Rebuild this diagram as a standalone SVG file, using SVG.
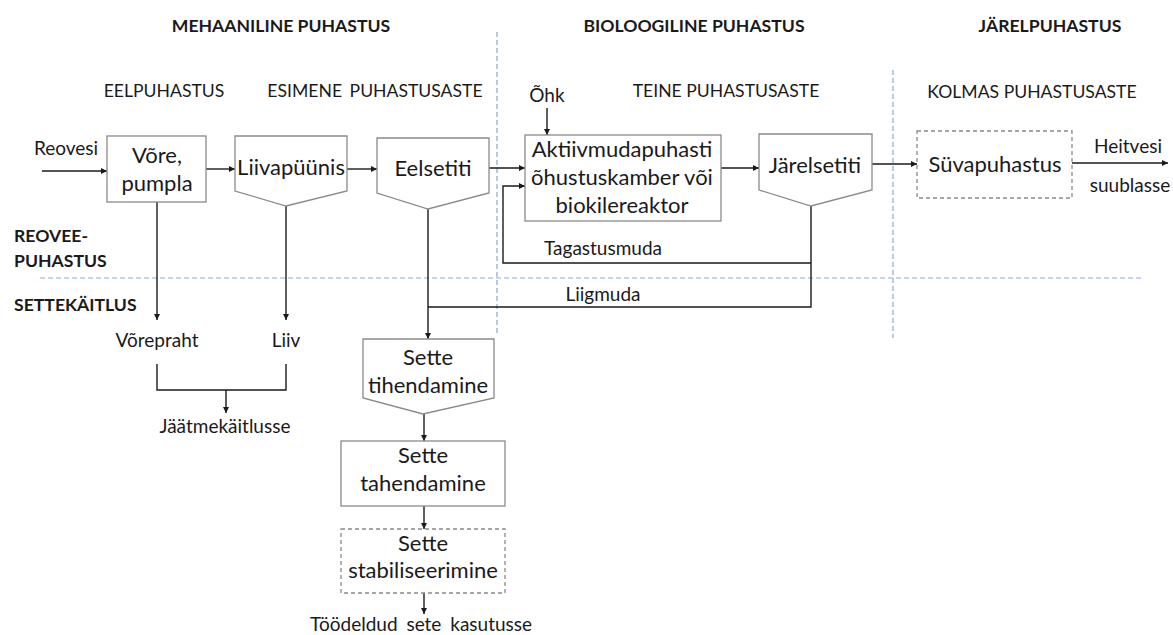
<svg xmlns="http://www.w3.org/2000/svg" width="1173" height="635" viewBox="0 0 1173 635">
<style>
text{font-family:Lato,"Open Sans","Liberation Sans",sans-serif;fill:#1a1a1a}
.t{font-size:17.6px;font-weight:bold;text-anchor:middle}
.s{font-size:17.6px;text-anchor:middle}
.b{font-size:22px;text-anchor:middle}
.l{font-size:19px;text-anchor:middle}
.lb{font-size:17.6px;font-weight:bold}
.box{fill:#fff;stroke:#8a8a8a;stroke-width:1.3}
.dbox{fill:#fff;stroke:#8a8a8a;stroke-width:1.3;stroke-dasharray:4 3}
.c{fill:none;stroke:#1a1a1a;stroke-width:1.4}
.a{marker-end:url(#ah)}
.sepv{stroke:#8ea9c8;stroke-width:1.2;stroke-dasharray:5 3;fill:none}
.seph{stroke:#b4c7e7;stroke-width:1.4;stroke-dasharray:5 3;fill:none}
</style>
<defs>
<marker id="ah" viewBox="0 0 10 10" refX="10" refY="5" markerWidth="6" markerHeight="6" markerUnits="userSpaceOnUse" orient="auto"><path d="M0 0L10 5L0 10z" fill="#1a1a1a"/></marker>
</defs>
<rect width="1173" height="635" fill="#fff"/>
<g id="separators">
<path class="sepv" d="M497 32V336"/>
<path class="sepv" d="M893 70V338"/>
<path class="seph" d="M40 278H1142"/>
</g>
<g id="headings">
<text class="t" x="281" y="32">MEHAANILINE PUHASTUS</text>
<text class="t" x="694" y="32">BIOLOOGILINE PUHASTUS</text>
<text class="t" x="1050" y="32">JÄRELPUHASTUS</text>
<text class="s" x="164" y="97">EELPUHASTUS</text>
<text class="s" x="375" y="97" word-spacing="3">ESIMENE PUHASTUSASTE</text>
<text class="s" x="726" y="97">TEINE PUHASTUSASTE</text>
<text class="s" x="1032" y="98">KOLMAS PUHASTUSASTE</text>
<text class="lb" x="14" y="242">REOVEE-</text>
<text class="lb" x="14" y="267">PUHASTUS</text>
<text class="lb" x="14" y="311">SETTEKÄITLUS</text>
</g>
<g id="connectors">
<path class="c a" d="M42 171H107"/>
<path class="c a" d="M206 169H235"/>
<path class="c a" d="M347 169H377"/>
<path class="c a" d="M489 168H525"/>
<path class="c a" d="M547 108V135"/>
<path class="c a" d="M721 168H759"/>
<path class="c a" d="M872 164H917"/>
<path class="c a" d="M1072 163H1168"/>
<path class="c a" d="M157 202V320"/>
<path class="c a" d="M286 206V320"/>
<path class="c" d="M157 364V390H286V364"/>
<path class="c a" d="M226 390V413"/>
<path class="c" d="M811 206V307H428"/>
<path class="c a" d="M811 263H503V186H525"/>
<path class="c a" d="M428 209V339"/>
<path class="c a" d="M424 414V441"/>
<path class="c a" d="M424 506V529"/>
<path class="c a" d="M424 593V614"/>
</g>
<g id="labels">
<text class="l" x="66" y="155">Reovesi</text>
<text class="l" x="547" y="102">Õhk</text>
<text class="l" x="1128" y="153">Heitvesi</text>
<text class="l" x="1130" y="192">suublasse</text>
<text class="l" x="157" y="347">Võrepraht</text>
<text class="l" x="286" y="347">Liiv</text>
<text class="l" x="225" y="433">Jäätmekäitlusse</text>
<text class="l" x="603" y="255">Tagastusmuda</text>
<text class="l" x="603" y="301">Liigmuda</text>
<text class="l" x="421" y="631" word-spacing="4">Töödeldud sete kasutusse</text>
</g>
<g id="vore">
<rect class="box" x="107" y="136" width="99" height="66"/>
<text class="b" x="157" y="163">Võre,</text>
<text class="b" x="157" y="191">pumpla</text>
</g>
<g id="liivapyynis">
<path class="box" d="M235 136H347V191L286 206L235 191Z"/>
<text class="b" x="291" y="175">Liivapüünis</text>
</g>
<g id="eelsetiti">
<path class="box" d="M377 138H489V193L428 209L377 193Z"/>
<text class="b" x="433" y="176">Eelsetiti</text>
</g>
<g id="aktiiv">
<rect class="box" x="525" y="135" width="196" height="86"/>
<text class="b" x="622" y="157">Aktiivmudapuhasti</text>
<text class="b" x="622" y="185">õhustuskamber või</text>
<text class="b" x="622" y="213">biokilereaktor</text>
</g>
<g id="jarelsetiti">
<path class="box" d="M759 134H872V190L811 206L759 190Z"/>
<text class="b" x="815" y="173">Järelsetiti</text>
</g>
<g id="syvapuhastus">
<rect class="dbox" x="917" y="131" width="155" height="67"/>
<text class="b" x="995" y="172">Süvapuhastus</text>
</g>
<g id="tihendamine">
<path class="box" d="M363 339H494V398L423 414L363 398Z"/>
<text class="b" x="428" y="365">Sette</text>
<text class="b" x="428" y="393">tihendamine</text>
</g>
<g id="tahendamine">
<rect class="box" x="341" y="441" width="164" height="65"/>
<text class="b" x="423" y="463">Sette</text>
<text class="b" x="423" y="491">tahendamine</text>
</g>
<g id="stabiliseerimine">
<rect class="dbox" x="341" y="529" width="164" height="64"/>
<text class="b" x="423" y="551">Sette</text>
<text class="b" x="423" y="578">stabiliseerimine</text>
</g>
</svg>
